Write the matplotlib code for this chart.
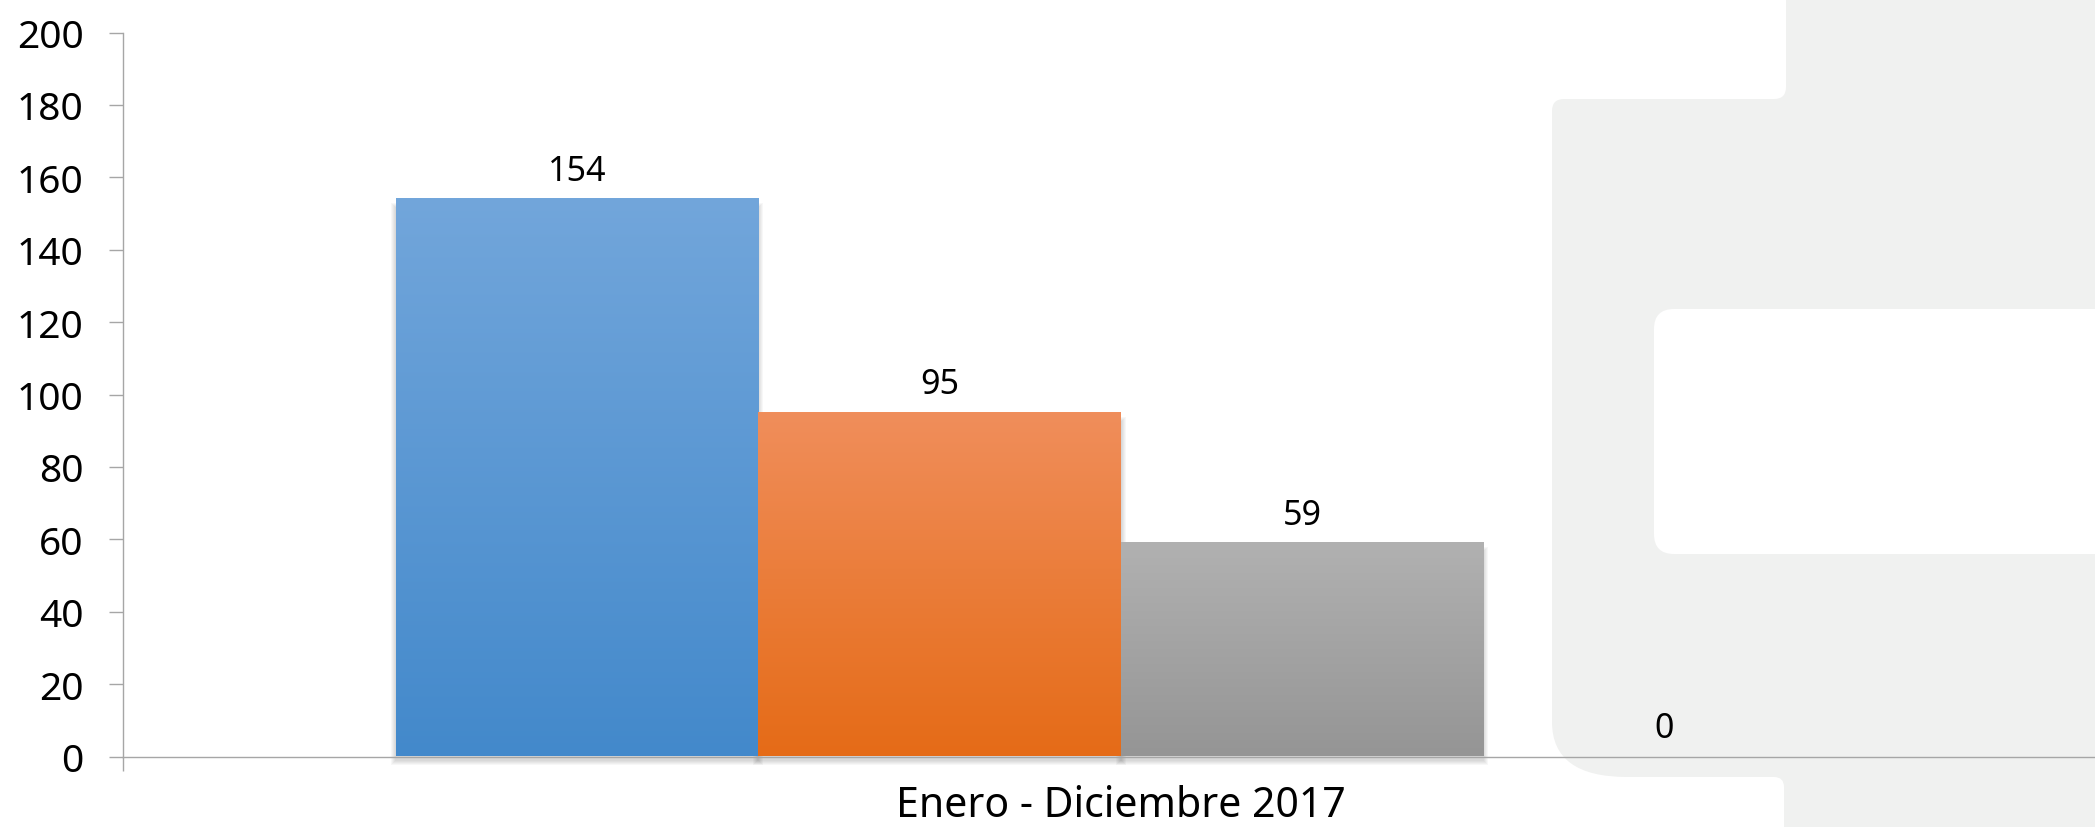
import numpy as np
import matplotlib.pyplot as plt
from matplotlib.path import Path
from matplotlib.patches import PathPatch, Rectangle
from matplotlib.colors import LinearSegmentedColormap

# data
series_values = [154, 95, 59, 0]
category = 'Enero - Diciembre 2017'
y_ticks = list(range(0, 201, 20))

# gradient colours per series (top, bottom)
top_colors = ['#72A6DB', '#F08E5B', '#B1B1B1', '#FFD966']
bottom_colors = ['#4389CB', '#E56B17', '#959595', '#F0B000']

plt.rcParams['font.family'] = 'Noto Sans'

W, H = 2095, 828
fig = plt.figure(figsize=(W / 100, H / 100), dpi=100)
fig.patch.set_facecolor('white')


def rounded(points, radii):
    """closed polygon with each corner cut by a quadratic curve"""
    verts, codes = [], []
    n = len(points)
    for i in range(n):
        p = np.array(points[i], float)
        r = radii[i]
        if np.isscalar(r):
            r = (r, r)
        if r[0] == 0 and r[1] == 0:
            verts.append(p)
            codes.append(Path.MOVETO if i == 0 else Path.LINETO)
            continue
        prv = np.array(points[i - 1], float)
        nxt = np.array(points[(i + 1) % n], float)
        d1 = (prv - p) / np.linalg.norm(prv - p)
        d2 = (nxt - p) / np.linalg.norm(nxt - p)
        verts += [p + d1 * r[0], p, p + d2 * r[1]]
        codes += [Path.MOVETO if i == 0 else Path.LINETO, Path.CURVE3, Path.CURVE3]
    verts.append(verts[0])
    codes.append(Path.CLOSEPOLY)
    return Path(verts, codes)


# slide decoration behind the chart
bg = fig.add_axes([0, 0, 1, 1], zorder=0)
bg.set_xlim(0, W)
bg.set_ylim(H, 0)
bg.axis('off')
gray_shape = rounded(
    [(1786, -20), (1786, 100), (1552, 100), (1552, 778), (1784, 778),
     (1784, 850), (2120, 850), (2120, -20)],
    [0, 12, 12, (55, 75), 10, 0, 0, 0])
bg.add_patch(PathPatch(gray_shape, fc='#F0F1F0', ec='none'))
white_box = rounded([(2120, 310), (1654, 310), (1654, 555), (2120, 555)],
                    [0, 20, 20, 0])
bg.add_patch(PathPatch(white_box, fc='white', ec='none'))

# chart
ax_left, ax_bottom = 123 / W, (H - 757.5) / H
ax = fig.add_axes([ax_left, ax_bottom, 1 - ax_left, 724 / H], zorder=1)
ax.patch.set_visible(False)

n = len(series_values)
xpos = np.arange(n) - (n - 1) / 2
xlim = (-2.754, 2.689)
ylim = (0, 200)

px = (xlim[1] - xlim[0]) / (W * (1 - ax_left))
py = (ylim[1] - ylim[0]) / 724

grad = np.linspace(0, 1, 256).reshape(-1, 1)
for x, v, c0, c1 in zip(xpos, series_values, top_colors, bottom_colors):
    x0, x1 = x - 0.5, x + 0.5
    if v > 0:
        # soft shadow
        for s in range(1, 6):
            ax.add_patch(Rectangle((x0 - s * px, -(3 + s) * py),
                                   1 + 2 * s * px, v + 2 * s * py - 6 * py,
                                   fc='black', ec='none', alpha=0.03,
                                   zorder=1, clip_on=False))
        cmap = LinearSegmentedColormap.from_list('g', [c0, c1])
        ax.imshow(grad, cmap=cmap, extent=(x0, x1, 0, v), origin='upper',
                  aspect='auto', zorder=2, interpolation='bilinear')
    ax.annotate(str(v), (x, v), xytext=(0, 8), textcoords='offset points',
                ha='center', va='bottom', fontsize=24.5, color='black', zorder=3)

ax.set_xlim(*xlim)
ax.set_ylim(*ylim)

ax.set_yticks(y_ticks)
ax.tick_params(axis='y', length=10, width=1, color='#A6A6A6', pad=18.5,
               labelsize=28, direction='out')
ax.set_xticks([0])
ax.set_xticklabels([category])
ax.tick_params(axis='x', which='major', length=0, pad=20, labelsize=29.5)
ax.set_xticks([xlim[0]], minor=True)
ax.tick_params(axis='x', which='minor', length=10, width=1, color='#A6A6A6',
               direction='out')

for side in ['top', 'right']:
    ax.spines[side].set_visible(False)
for side in ['left', 'bottom']:
    ax.spines[side].set_color('#A6A6A6')
    ax.spines[side].set_linewidth(1)

fig.savefig('out.png', dpi=100)
